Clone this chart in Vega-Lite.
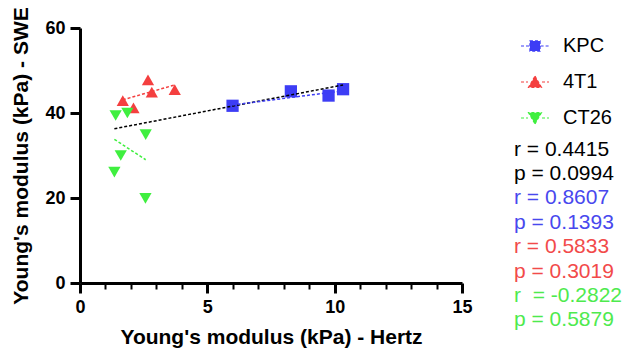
{
  "$schema": "https://vega.github.io/schema/vega-lite/v6.json",
  "width": 382,
  "height": 255,
  "autosize": {"type": "none"},
  "padding": {"left": 80, "top": 28, "right": 164, "bottom": 66},
  "config": {
    "view": {"stroke": null},
    "font": "Liberation Sans",
    "axis": {
      "grid": false,
      "domainColor": "black",
      "domainWidth": 3,
      "tickColor": "black",
      "tickWidth": 3,
      "labelColor": "black",
      "labelFont": "Liberation Sans",
      "labelFontSize": 18,
      "labelFontWeight": "bold",
      "labelFlush": false,
      "titleColor": "black",
      "titleFont": "Liberation Sans",
      "titleFontSize": 21,
      "titleFontWeight": "bold"
    },
    "legend": {"labelFont": "Liberation Sans", "labelColor": "black"}
  },
  "resolve": {"axis": {"x": "independent"}},
  "datasets": {
    "points": [
      {"group": "KPC", "hertz": 5.99, "swe": 41.7},
      {"group": "KPC", "hertz": 8.28, "swe": 45.1},
      {"group": "KPC", "hertz": 9.76, "swe": 44.1},
      {"group": "KPC", "hertz": 10.33, "swe": 45.6},
      {"group": "4T1", "hertz": 1.68, "swe": 42.9},
      {"group": "4T1", "hertz": 2.1, "swe": 41.2},
      {"group": "4T1", "hertz": 2.67, "swe": 47.8},
      {"group": "4T1", "hertz": 2.82, "swe": 44.9},
      {"group": "4T1", "hertz": 3.72, "swe": 45.5},
      {"group": "CT26", "hertz": 1.4, "swe": 39.4},
      {"group": "CT26", "hertz": 1.86, "swe": 40.0},
      {"group": "CT26", "hertz": 2.58, "swe": 34.9},
      {"group": "CT26", "hertz": 1.6, "swe": 30.0},
      {"group": "CT26", "hertz": 1.35, "swe": 26.1},
      {"group": "CT26", "hertz": 2.57, "swe": 19.9}
    ],
    "fits": [
      {"fit": "All", "hertz": 1.35, "swe": 36.3},
      {"fit": "All", "hertz": 10.33, "swe": 46.6},
      {"fit": "KPC", "hertz": 5.99, "swe": 41.9},
      {"fit": "KPC", "hertz": 10.33, "swe": 45.2},
      {"fit": "4T1", "hertz": 1.68, "swe": 43.1},
      {"fit": "4T1", "hertz": 3.72, "swe": 46.6},
      {"fit": "CT26", "hertz": 1.35, "swe": 33.8},
      {"fit": "CT26", "hertz": 2.58, "swe": 29.0}
    ],
    "stats": [
      {"stat": "r = 0.4415"},
      {"stat": "p = 0.0994"},
      {"stat": "r = 0.8607"},
      {"stat": "p = 0.1393"},
      {"stat": "r = 0.5833"},
      {"stat": "p = 0.3019"},
      {"stat": "r\u00a0 = -0.2822"},
      {"stat": "p = 0.5879"}
    ]
  },
  "layer": [
    {
      "data": {"name": "points"},
      "encoding": {
        "x": {
          "field": "hertz",
          "type": "quantitative",
          "scale": {"domain": [0, 15], "nice": false, "zero": false},
          "axis": {
            "orient": "bottom",
            "title": "Young's modulus (kPa) - Hertz",
            "values": [0, 5, 10, 15],
            "tickSize": 10,
            "labelPadding": 5,
            "titlePadding": 10
          }
        },
        "y": {
          "field": "swe",
          "type": "quantitative",
          "scale": {"domain": [0, 60], "nice": false},
          "axis": {
            "title": "Young's modulus (kPa) - SWE",
            "values": [0, 20, 40, 60],
            "tickSize": 10,
            "labelPadding": 5,
            "titlePadding": 13
          }
        },
        "color": {
          "field": "group",
          "type": "nominal",
          "scale": {"domain": ["KPC", "4T1", "CT26"], "range": ["#3d3df5", "#f43f3f", "#3fef3f"]},
          "legend": {
            "title": null,
            "orient": "right",
            "offset": 54.5,
            "padding": 3,
            "symbolSize": 784,
            "symbolType": {"expr": "datum.value === 'KPC' ? 'M-1,0L-0.4,0M0.4,0L1,0M-0.36,-0.36L0.36,-0.36L0.36,0.36L-0.36,0.36Z' : datum.value === '4T1' ? 'M-1,0L-0.5,0M0.5,0L1,0M0,-0.42L0.46,0.38L-0.46,0.38Z' : 'M-1,0L-0.5,0M0.5,0L1,0M0,0.42L0.46,-0.38L-0.46,-0.38Z'"},
            "symbolStrokeColor": {"expr": "datum.value === 'KPC' ? '#3d3df5' : datum.value === '4T1' ? '#f43f3f' : '#3fef3f'"},
            "symbolDash": [3, 2],
            "symbolStrokeWidth": 1.2,
            "symbolOpacity": 1,
            "labelFontSize": 20,
            "labelOffset": 13,
            "rowPadding": 11
          }
        }
      },
      "layer": [
        {
          "transform": [{"filter": {"field": "group", "equal": "KPC"}}],
          "mark": {"type": "point", "shape": "square", "filled": true, "opacity": 1, "size": 150}
        },
        {
          "transform": [{"filter": {"field": "group", "equal": "4T1"}}],
          "mark": {"type": "point", "shape": "triangle-up", "filled": true, "opacity": 1, "size": 150}
        },
        {
          "transform": [{"filter": {"field": "group", "equal": "CT26"}}],
          "mark": {"type": "point", "shape": "triangle-down", "filled": true, "opacity": 1, "size": 150}
        }
      ]
    },
    {
      "data": {"name": "fits"},
      "mark": {"type": "line", "strokeDash": [3, 2], "strokeWidth": 1.5},
      "encoding": {
        "x": {
          "field": "hertz",
          "type": "quantitative",
          "axis": {
            "orient": "top",
            "offset": -255,
            "title": null,
            "values": [1, 2, 3, 4, 6, 7, 8, 9, 11, 12, 13, 14],
            "labels": false,
            "domain": false,
            "tickSize": -6,
            "tickWidth": 2
          }
        },
        "y": {"field": "swe", "type": "quantitative"},
        "detail": {"field": "fit", "type": "nominal"},
        "stroke": {
          "field": "fit",
          "type": "nominal",
          "scale": {"domain": ["All", "KPC", "4T1", "CT26"], "range": ["black", "#3d3df5", "#f43f3f", "#3fef3f"]},
          "legend": null
        }
      }
    },
    {
      "data": {"name": "stats"},
      "mark": {"type": "point", "opacity": 0},
      "encoding": {
        "strokeDash": {
          "field": "stat",
          "type": "nominal",
          "scale": {"domain": ["r = 0.4415", "p = 0.0994", "r = 0.8607", "p = 0.1393", "r = 0.5833", "p = 0.3019", "r\u00a0 = -0.2822", "p = 0.5879"]},
          "legend": {
            "title": null,
            "orient": "right",
            "padding": 0,
            "symbolSize": 0,
            "symbolOpacity": 0,
            "symbolStrokeWidth": 0,
            "labelOffset": -24,
            "labelFontSize": 21,
            "labelLimit": 0,
            "rowPadding": 2.4,
            "labelColor": {"expr": "(indexof(datum.label, '0.8607') >= 0 || indexof(datum.label, '0.1393') >= 0) ? '#4848ee' : (indexof(datum.label, '0.5833') >= 0 || indexof(datum.label, '0.3019') >= 0) ? '#f24a4a' : (indexof(datum.label, '0.2822') >= 0 || indexof(datum.label, '0.5879') >= 0) ? '#4eea4e' : 'black'"}
          }
        }
      }
    }
  ]
}
